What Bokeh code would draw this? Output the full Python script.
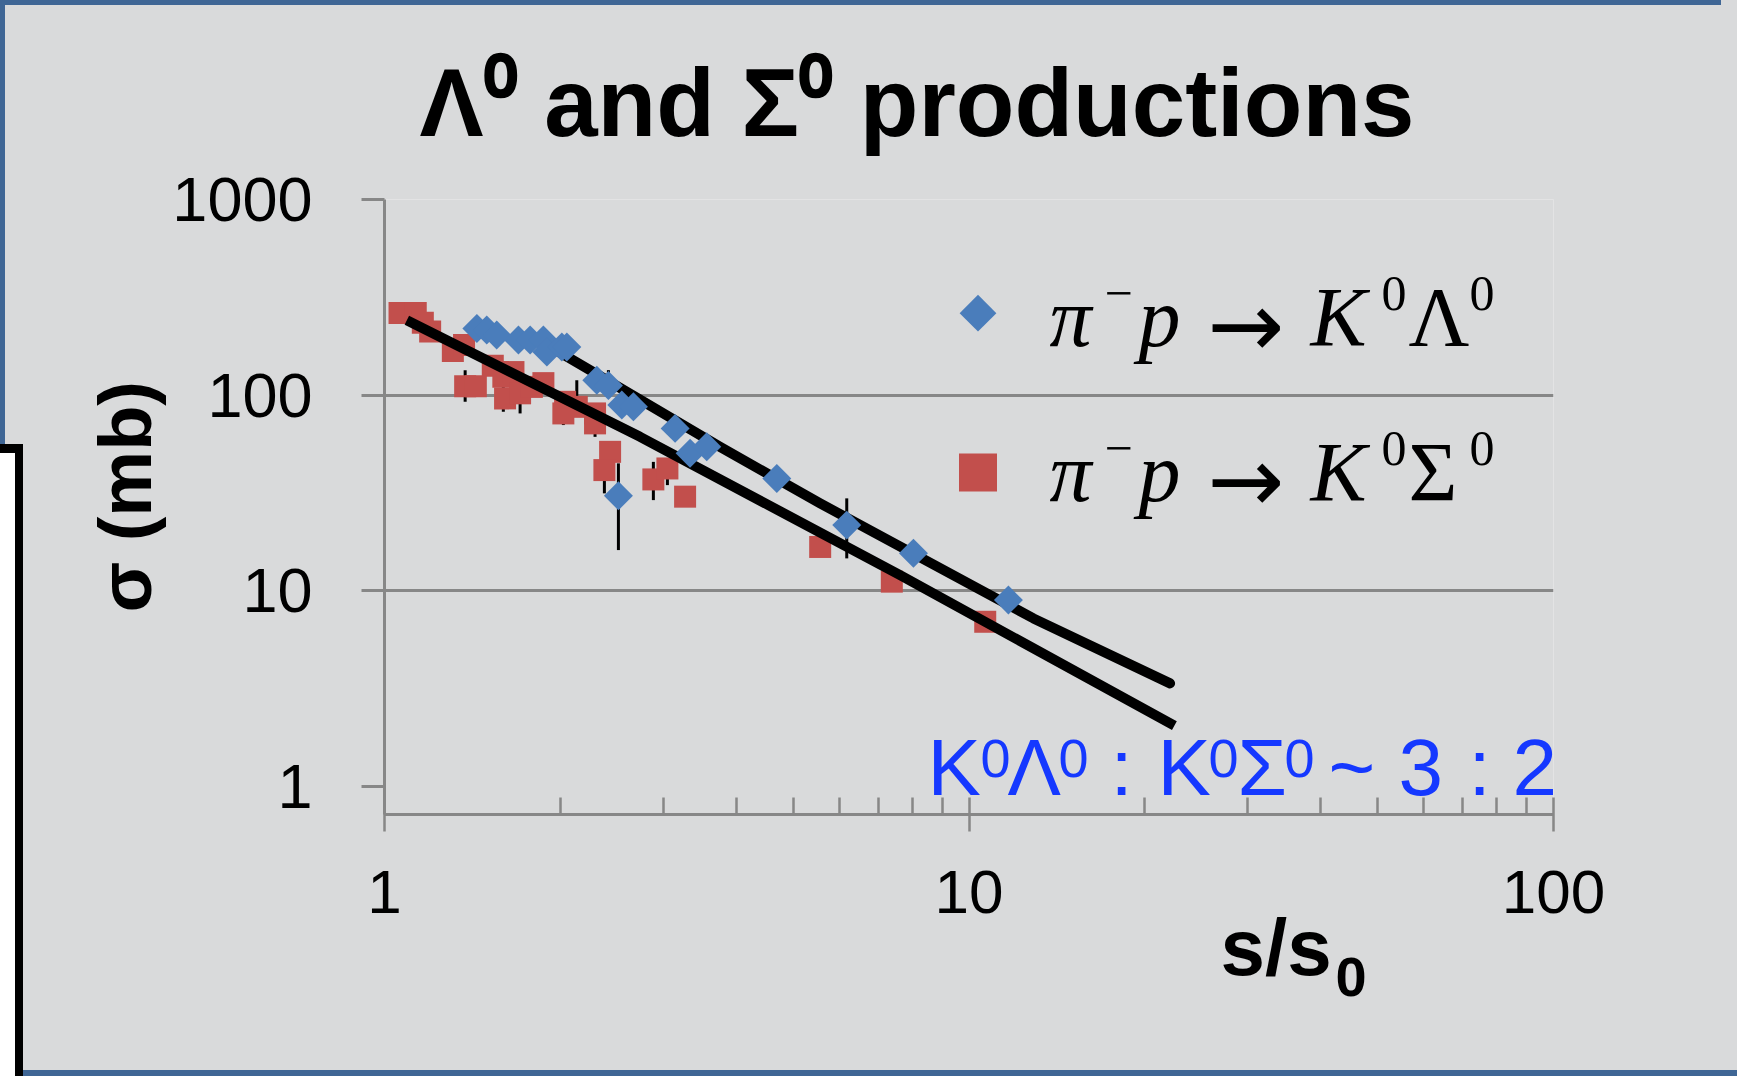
import numpy as np
from math import log10
from bokeh.plotting import figure
from bokeh.models import Range1d, FixedTicker, BasicTickFormatter, Label, Title
from bokeh.embed import file_html
from bokeh.resources import INLINE

# ---------------- data ----------------
# pi- p -> K0 Lambda0 (blue diamonds)
lam_x = [1.439, 1.496, 1.556, 1.695, 1.775, 1.870, 1.896, 2.011, 2.051, 2.308, 2.416,
         2.547, 2.666, 2.513, 3.142, 3.333, 3.559, 4.690, 6.178, 8.034, 11.68]
lam_y = [219, 215, 203, 191, 191, 191, 166, 176, 176, 119, 112,
         88.8, 87.0, 30.5, 67.5, 50.3, 54.3, 37.4, 21.6, 15.5, 8.93]
lam_err_x = [2.513, 6.178, 2.416, 3.333]
lam_err_lo = [16.1, 14.6, 100, 43]
lam_err_hi = [44.7, 29.6, 134, 56]

# pi- p -> K0 Sigma0 (red squares)
sig_x = [1.061, 1.131, 1.163, 1.197, 1.309, 1.368, 1.374, 1.433, 1.532, 1.597, 1.662,
         1.608, 1.706, 1.787, 1.870, 2.037, 2.133, 2.023, 2.292, 2.292, 2.432, 2.378,
         2.884, 3.048, 3.268, 5.564, 7.378, 10.66]
sig_y = [263, 263, 234, 211, 168, 180, 111, 111, 141, 124, 131,
         96.1, 102, 110, 115, 92.3, 87.0, 80.5, 80.5, 71.6, 51.2, 41.3,
         37.0, 42.1, 30.2, 16.7, 11.1, 6.92]
sig_err_x = [1.374, 1.597, 1.706, 1.662, 2.023, 2.292, 2.133, 2.378, 2.884, 3.048]
sig_err_lo = [92.3, 82.1, 80.5, 120, 70.2, 61.1, 80, 31.4, 29.0, 34.6]
sig_err_hi = [134, 140, 125, 145, 92, 82, 119, 48, 45.5, 45]

# fitted curves (black lines)
lam_fit_x = [1.775, 2.247, 3.751, 5.564, 12.89, 22.08]
lam_fit_y = [202.5, 134.1, 54.3, 27.9, 7.20, 3.35]
sig_fit_x = [1.092, 2.737, 7.623, 22.46]
sig_fit_y = [241, 61.1, 11.99, 2.034]

# axes
x_ticks = [1, 10, 100]
x_minor = [2, 3, 4, 5, 6, 7, 8, 9, 20, 30, 40, 50, 60, 70, 80, 90]
y_ticks = [1, 10, 100, 1000]
grid_vals = [10, 100, 1000]

TITLE = "Λ⁰ and Σ⁰ productions"
X_TITLE_MAIN = "s/s"
X_TITLE_SUB = "0"
Y_TITLE = "σ (mb)"

# ---------------- layout ----------------
W, H = 1721, 1060
ML, MR, MT, MB = 384, 168, 199, 246
FW = W - ML - MR
FH = H - MT - MB
X_LO, X_HI = 1.0, 100.0
Y_LO, Y_HI = 0.715, 1000.0

BG = "#d9dadb"
GRAY = "#878787"
BLUE = "#4a7dbb"
RED = "#c24f4c"
TXTBLUE = "#1538ff"
SLIDE_BLUE = "#3f6695"
NBSP = "\u00a0"

# decorative slide edges (black bracket, blue frame lines, background beyond the canvas)
EDGE_CSS = f"""
:host {{ box-shadow: 16px 0 0 0 {BG}, 0 10px 0 0 {BG}, 16px 10px 0 0 {BG},
         0 16px 0 0 {SLIDE_BLUE}, 16px 16px 0 0 {SLIDE_BLUE}; }}
:host::before {{ content: ''; position: absolute; left: 0px; top: 444px; width: 15px; height: 623px;
  background: white; border-right: 8px solid black; border-top: 9px solid black;
  box-sizing: content-box; pointer-events: none; z-index: 5; }}
:host::after {{ content: ''; position: absolute; left: 0px; top: 0px; width: 100%; height: 444px;
  border-top: 5px solid {SLIDE_BLUE}; border-left: 5px solid {SLIDE_BLUE}; box-sizing: border-box;
  pointer-events: none; z-index: 5; }}
"""


def xd(px):
    return 10 ** (log10(X_LO) + (px - ML) / FW * (log10(X_HI) - log10(X_LO)))


def yd(py):
    return 10 ** (log10(Y_HI) - (py - MT) / FH * (log10(Y_HI) - log10(Y_LO)))


p = figure(width=W, height=H, x_axis_type="log", y_axis_type="log",
           x_range=Range1d(X_LO, X_HI), y_range=Range1d(Y_LO, Y_HI),
           output_backend="svg", toolbar_location=None,
           min_border_left=ML, min_border_right=MR, min_border_top=MT, min_border_bottom=MB,
           stylesheets=[EDGE_CSS])
p.background_fill_color = BG
p.border_fill_color = BG
p.outline_line_color = None
p.xgrid.visible = False
p.ygrid.ticker = FixedTicker(ticks=grid_vals)
p.ygrid.grid_line_color = GRAY
p.ygrid.grid_line_width = 3

# title
p.title.text = TITLE
p.title.text_font = "Liberation Sans"
p.title.text_font_size = "96px"
p.title.text_font_style = "bold"
p.title.text_color = "black"
p.title.align = "left"
p.title.offset = 419 - ML
p.title.vertical_align = "bottom"
p.title.standoff = 88

# x axis
xa = p.xaxis[0]
xa.ticker = FixedTicker(ticks=x_ticks, minor_ticks=x_minor)
xa.formatter = BasicTickFormatter()
xa.axis_line_color = GRAY
xa.axis_line_width = 3
xa.major_tick_line_color = GRAY
xa.major_tick_line_width = 2.5
xa.major_tick_in = 17
xa.major_tick_out = 17
xa.minor_tick_line_color = GRAY
xa.minor_tick_line_width = 2.5
xa.minor_tick_in = 17
xa.minor_tick_out = 0
xa.major_label_text_font = "Liberation Sans"
xa.major_label_text_font_size = "62px"
xa.major_label_text_color = "black"
xa.major_label_standoff = 39

# x axis title, drawn as two stacked titles below the axis ("s/s" and its subscript 0)
p.add_layout(Title(text=X_TITLE_MAIN, text_font="Liberation Sans", text_font_size="80px",
                   text_font_style="bold", text_color="black", align="left",
                   offset=1220 - ML, vertical_align="top", standoff=-25), "below")
p.add_layout(Title(text=X_TITLE_SUB, text_font="Liberation Sans", text_font_size="56px",
                   text_font_style="bold", text_color="black", align="left",
                   offset=1335 - ML, vertical_align="top", standoff=-47), "below")

# y axis
ya = p.yaxis[0]
ya.ticker = FixedTicker(ticks=y_ticks, minor_ticks=[])
ya.formatter = BasicTickFormatter()
ya.axis_line_color = GRAY
ya.axis_line_width = 3
ya.major_tick_line_color = GRAY
ya.major_tick_line_width = 3
ya.major_tick_in = 0
ya.major_tick_out = 23
ya.minor_tick_line_color = None
ya.major_label_text_font = "Liberation Sans"
ya.major_label_text_font_size = "63px"
ya.major_label_text_color = "black"
ya.major_label_standoff = 49
ya.axis_label = NBSP + Y_TITLE
ya.axis_label_text_font = "Liberation Sans"
ya.axis_label_text_font_size = "74px"
ya.axis_label_text_font_style = "bold"
ya.axis_label_text_color = "black"
ya.axis_label_standoff = 2

# ---------------- data glyphs ----------------
p.segment(x0=sig_err_x, y0=sig_err_lo, x1=sig_err_x, y1=sig_err_hi, line_color="black", line_width=3)
p.segment(x0=lam_err_x, y0=lam_err_lo, x1=lam_err_x, y1=lam_err_hi, line_color="black", line_width=3)
p.scatter(sig_x, sig_y, marker="square", size=22, fill_color=RED, line_color=None)
p.line(sig_fit_x, sig_fit_y, line_color="black", line_width=10, line_join="round")
p.line(lam_fit_x, lam_fit_y, line_color="black", line_width=10, line_join="round", line_cap="round")
p.scatter(lam_x, lam_y, marker="square", angle=np.pi / 4, size=20.5, fill_color=BLUE, line_color=None)

# legend markers
p.scatter([xd(977.5)], [yd(312.7)], marker="square", angle=np.pi / 4, size=26, fill_color=BLUE, line_color=None)
p.scatter([xd(977.5)], [yd(472)], marker="square", size=38, fill_color=RED, line_color=None)


def txt(px, base, s, size, font="Liberation Sans", style="normal", color="black", mid=0.345):
    # base: wanted pixel row of the text baseline; text is anchored by its middle
    p.add_layout(Label(x=xd(px), y=yd(base - mid * size), text=s, text_font=font,
                       text_font_size=f"{size}px", text_font_style=style, text_color=color,
                       text_align="left", text_baseline="middle"))


# legend texts (math style)
SERIF = "Liberation Serif"
for base, big in [(345, "Λ"), (500, "Σ")]:
    txt(1049, base, "π", 84, font=SERIF, style="italic", mid=0.338)
    txt(1104, base - 35, "−", 50, font=SERIF, mid=0.338)
    txt(1138, base, "p", 84, font=SERIF, style="italic", mid=0.338)
    txt(1207, base - 20 + 0.346 * 92, "→", 92, font="DejaVu Sans", mid=0.346)
    txt(1310, base, "K", 84, font=SERIF, style="italic", mid=0.338)
    txt(1381, base - 35, "0", 50, font=SERIF, mid=0.338)
    txt(1408, base, big, 84, font=SERIF, mid=0.338)
    txt(1469, base - 35, "0", 50, font=SERIF, mid=0.338)

# ratio annotation
NARROW = "'Liberation Sans Narrow', 'Liberation Sans', sans-serif"
for s, x0, sup in [("K", 927, False), ("0", 980, True), ("Λ", 1007, False), ("0", 1058, True),
                   (":", 1110, False), ("K", 1157, False), ("0", 1208, True), ("Σ", 1237, False),
                   ("0", 1284, True), ("~", 1328, False), ("3", 1398, False), (":", 1468, False),
                   ("2", 1512, False)]:
    if sup:
        txt(x0, 777, s, 54, font=NARROW, color=TXTBLUE)
    else:
        txt(x0, 795, s, 80, font=NARROW, color=TXTBLUE)

open("out.html", "w").write(file_html(p, INLINE))
